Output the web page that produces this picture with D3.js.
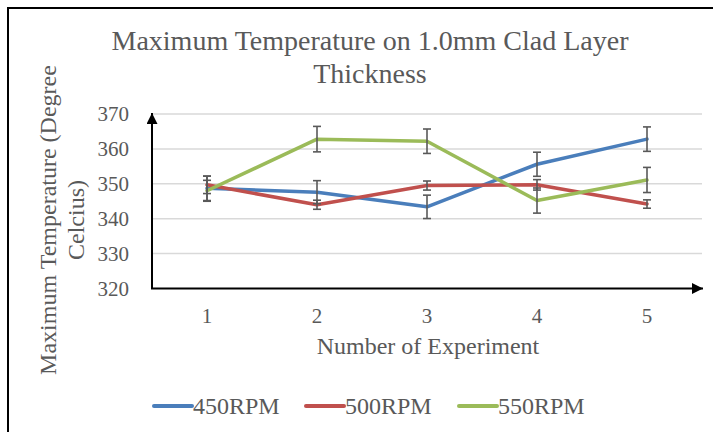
<!DOCTYPE html>
<html>
<head>
<meta charset="utf-8">
<script src="https://cdn.jsdelivr.net/npm/d3@7"></script>
<style>
	body { margin: 0; background: #fff; }
	svg { display: block; }
	svg text { font-family: 'Liberation Serif', 'Times New Roman', Times, 'DejaVu Serif', serif; }
</style>
</head>
<body>
<svg class="svgWrapper" width="713" height="432"></svg>
<script>

// chart data
const experiments = [1, 2, 3, 4, 5];
const seriesNames = ['450RPM', '500RPM', '550RPM'];
const rpm450 = [348.7, 347.6, 343.4, 355.6, 362.8];
const rpm500 = [349.7, 344.0, 349.5, 349.7, 344.2];
const rpm550 = [348.0, 362.8, 362.2, 345.2, 351.1];
const err450 = [3.5, 3.3, 3.35, 3.45, 3.5];
const err500 = [2.5, 1.3, 1.3, 1.5, 1.2];
const err550 = [3.0, 3.65, 3.5, 3.6, 3.6];
const yTicks = [320, 330, 340, 350, 360, 370];

const seriesColors = ['#4a7ebb', '#c0504d', '#9bbb59'];
const textColor = '#595959';
const serifFont = "'Liberation Serif', 'Times New Roman', Times, 'DejaVu Serif', serif";

const series = seriesNames.map((name, i) => ({
	name,
	color: seriesColors[i],
	values: [rpm450, rpm500, rpm550][i],
	errors: [err450, err500, err550][i]
}));

const svgObj = d3.select('.svgWrapper')
	.attr('font-family', serifFont);

// outer frame (cut off at right and bottom like the screenshot)
svgObj.append('rect')
	.attr('x', 8).attr('y', 8)
	.attr('width', 740).attr('height', 460)
	.attr('fill', 'none')
	.attr('stroke', '#000')
	.attr('stroke-width', 2);

const xScale = d3.scaleBand()
	.domain(experiments)
	.range([152, 702]);

const yScale = d3.scaleLinear()
	.domain([320, 370])
	.range([288.5, 114]);

const xVal = d => xScale(d) + xScale.bandwidth() / 2;

// gridlines
svgObj.append('g').selectAll('line')
	.data(yTicks.slice(1))
	.join('line')
	.attr('x1', 152).attr('x2', 702)
	.attr('y1', d => yScale(d)).attr('y2', d => yScale(d))
	.attr('stroke', '#d9d9d9')
	.attr('stroke-width', 1.5);

// y tick labels
svgObj.append('g').selectAll('text')
	.data(yTicks)
	.join('text')
	.attr('x', 129)
	.attr('y', d => yScale(d))
	.attr('dy', '0.35em')
	.attr('text-anchor', 'end')
	.attr('font-size', 21)
	.attr('fill', textColor)
	.text(d => d);

// x tick labels
svgObj.append('g').selectAll('text')
	.data(experiments)
	.join('text')
	.attr('x', xVal)
	.attr('y', 316)
	.attr('dy', '0.35em')
	.attr('text-anchor', 'middle')
	.attr('font-size', 21)
	.attr('fill', textColor)
	.text(d => d);

// axes with arrow heads
const defs = svgObj.append('defs');
defs.append('marker')
	.attr('id', 'arrow')
	.attr('viewBox', '0 0 10 10')
	.attr('refX', 10).attr('refY', 5)
	.attr('markerWidth', 6).attr('markerHeight', 5.5)
	.attr('markerUnits', 'strokeWidth')
	.attr('orient', 'auto')
	.append('path')
	.attr('d', 'M0,0L10,5L0,10Z')
	.attr('fill', '#000');

svgObj.append('path')
	.attr('d', `M152,${yScale(320)}L152,${yScale(370) - 1}`)
	.attr('stroke', '#000')
	.attr('stroke-width', 2)
	.attr('fill', 'none')
	.attr('marker-end', 'url(#arrow)');

svgObj.append('path')
	.attr('d', `M151,${yScale(320)}L703,${yScale(320)}`)
	.attr('stroke', '#000')
	.attr('stroke-width', 2)
	.attr('fill', 'none')
	.attr('marker-end', 'url(#arrow)');

// series lines
const lineGen = d3.line()
	.x((d, i) => xVal(experiments[i]))
	.y(d => yScale(d));

svgObj.append('g').selectAll('path')
	.data(series)
	.join('path')
	.attr('d', d => lineGen(d.values))
	.attr('fill', 'none')
	.attr('stroke', d => d.color)
	.attr('stroke-width', 3.5)
	.attr('stroke-linejoin', 'round')
	.attr('stroke-linecap', 'round');

// error bars on top
const errG = svgObj.append('g')
	.attr('stroke', '#595959')
	.attr('stroke-width', 1.6);

series.forEach(s => {
	s.values.forEach((v, i) => {
		const cx = xVal(experiments[i]);
		const top = yScale(v + s.errors[i]);
		const bot = yScale(v - s.errors[i]);
		errG.append('line').attr('x1', cx).attr('x2', cx).attr('y1', top).attr('y2', bot);
		errG.append('line').attr('x1', cx - 4).attr('x2', cx + 4).attr('y1', top).attr('y2', top);
		errG.append('line').attr('x1', cx - 4).attr('x2', cx + 4).attr('y1', bot).attr('y2', bot);
	});
});

// title
const title = svgObj.append('text')
	.attr('text-anchor', 'middle')
	.attr('font-size', 28)
	.attr('fill', textColor);
title.append('tspan').attr('x', 370).attr('y', 50).text('Maximum Temperature on 1.0mm Clad Layer');
title.append('tspan').attr('x', 370).attr('y', 83).text('Thickness');

// axis titles
svgObj.append('text')
	.attr('x', 428).attr('y', 354)
	.attr('text-anchor', 'middle')
	.attr('font-size', 24)
	.attr('fill', textColor)
	.text('Number of Experiment');

const yTitle = svgObj.append('text')
	.attr('transform', 'translate(0,220) rotate(-90)')
	.attr('text-anchor', 'middle')
	.attr('font-size', 24)
	.attr('fill', textColor);
yTitle.append('tspan').attr('x', 0).attr('y', 56).text('Maximum Temperature (Degree');
yTitle.append('tspan').attr('x', 0).attr('y', 84).text('Celcius)');

// legend
const legendX = [152, 304, 457];
const legendG = svgObj.append('g').selectAll('g')
	.data(series)
	.join('g')
	.attr('transform', (d, i) => `translate(${legendX[i]},406)`);

legendG.append('line')
	.attr('x1', 2).attr('x2', 40)
	.attr('stroke', d => d.color)
	.attr('stroke-width', 4)
	.attr('stroke-linecap', 'round');

legendG.append('text')
	.attr('x', 41)
	.attr('dy', '0.35em')
	.attr('font-size', 24)
	.attr('fill', textColor)
	.text(d => d.name);

</script>
</body>
</html>
